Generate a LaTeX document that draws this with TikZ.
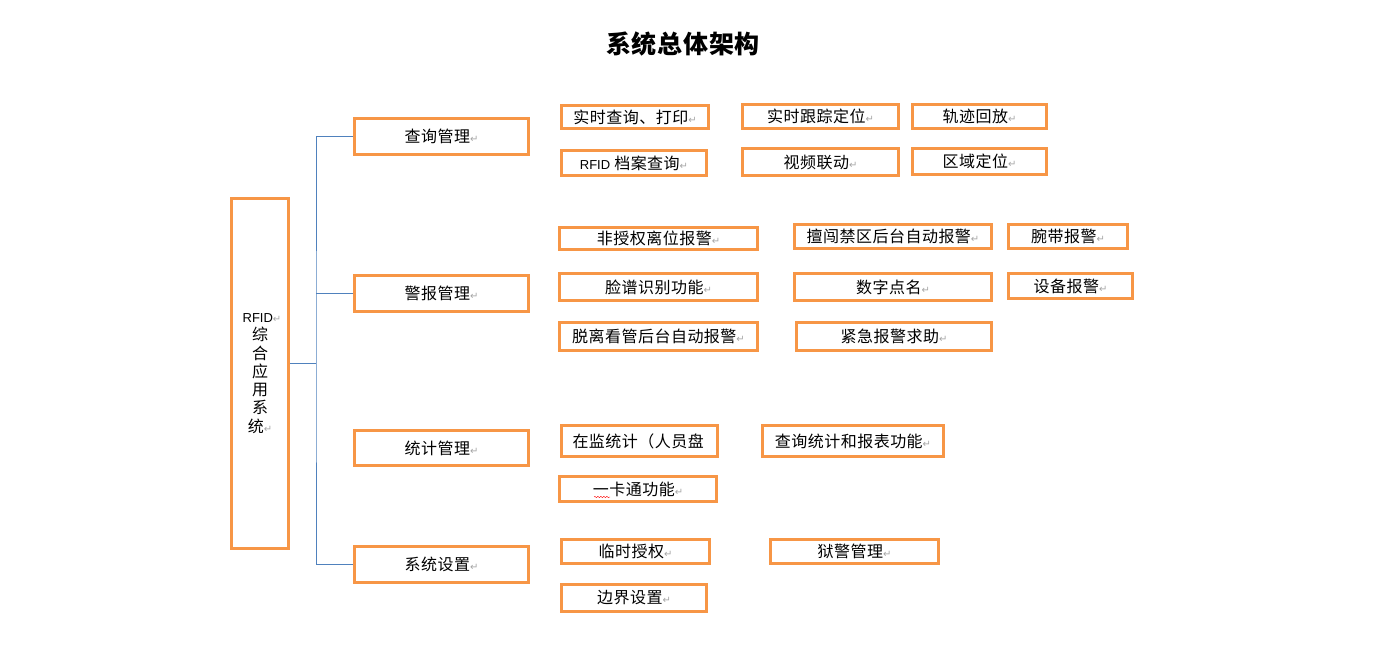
\documentclass[tikz,border=0pt]{standalone}
\usepackage{fontspec}
\setmainfont{Noto Sans CJK SC}[LetterSpace=3]
\newfontfamily\retfont{DejaVu Sans}
\newfontfamily\latinfont{Liberation Sans}
\usetikzlibrary{decorations.pathmorphing}
\definecolor{boxorange}{HTML}{F79646}
\definecolor{linkblue}{HTML}{4F81BD}
\newcommand{\retmark}{{\retfont\fontsize{10}{10}\selectfont\textcolor{gray!70}{↵}}}
\newcommand{\rfid}{{\latinfont\fontsize{13}{13}\selectfont RFID}}
\tikzset{
  box/.style={draw=boxorange, line width=3pt, inner sep=0pt, align=center,
    font=\fontsize{16}{18.3}\selectfont},
  link/.style={draw=linkblue, line width=1pt}
}
\begin{document}
\begin{tikzpicture}[x=1pt,y=-1pt]
    \useasboundingbox (0,0) rectangle (1397,656);
    % 标题
    \node (title) at (683,44) {\fontsize{25}{25}\selectfont\bfseries 系统总体架构};

    % 根节点
    \node[box, minimum width=57pt, minimum height=350pt] (root) at (260,373.5)
      {\hspace{4pt}\rfid\retmark\\综\\合\\应\\用\\系\\统\retmark};

    % 四个模块
    \node[box, minimum width=174pt, minimum height=36pt] (query) at (441.5,136.5) {查询管理\retmark};
    \node[box, minimum width=174pt, minimum height=36pt] (alarm) at (441.5,293.5) {警报管理\retmark};
    \node[box, minimum width=174pt, minimum height=35pt] (stat) at (441.5,448) {统计管理\retmark};
    \node[box, minimum width=174pt, minimum height=36pt] (setup) at (441.5,564.5) {系统设置\retmark};

    % 连线
    \coordinate (bus) at (316,363);
    \draw[link] (root.east |- bus) -- (bus);
    \draw[link] (query.west) -| (bus) |- (setup.west);
    \draw[link] (alarm.west) -- (alarm.west -| bus);

    % 查询管理的功能
    \foreach \name/\x/\y/\w/\h/\txt in {
      qa/635/117/147/23/实时查询、打印,
      qb/634/163/145/25/\rfid{} 档案查询,
      qc/820.5/116.5/156/24/实时跟踪定位,
      qd/979.5/116.5/134/24/轨迹回放,
      qe/820.5/162/156/27/视频联动,
      qf/979.5/161.5/134/26/区域定位}
    \node[box, minimum width=\w pt, minimum height=\h pt] (\name) at (\x,\y) {\txt\retmark};

    % 警报管理的功能
    \foreach \name/\x/\y/\w/\h/\txt in {
      aa/658.5/238.5/198/22/非授权离位报警,
      ab/893/236.5/197/24/擅闯禁区后台自动报警,
      ac/1068/236.5/119/24/腕带报警,
      ad/658.5/287/198/27/脸谱识别功能,
      ae/893/287/197/27/数字点名,
      af/1070.5/286/124/25/设备报警,
      ag/658.5/336.5/198/28/脱离看管后台自动报警,
      ah/894/336.5/195/28/紧急报警求助}
    \node[box, minimum width=\w pt, minimum height=\h pt] (\name) at (\x,\y) {\txt\retmark};

    % 统计管理的功能
    \node[box, minimum width=156pt, minimum height=31pt, text width=150pt, align=left] (sa) at (639.5,441) {\hspace{8pt}在监统计（人员盘};
    \node[box, minimum width=181pt, minimum height=31pt] (sb) at (853,441) {查询统计和报表功能\retmark};
    \node[box, minimum width=157pt, minimum height=25pt] (sc) at (638,489) {一卡通功能\retmark};
    \draw[red, decorate, decoration={snake, amplitude=0.7pt, segment length=3pt}]
      ([xshift=-44pt,yshift=-8pt]sc.center) -- ([xshift=-28pt,yshift=-8pt]sc.center);

    % 系统设置的功能
    \foreach \name/\x/\y/\w/\h/\txt in {
      ta/635.5/551.5/148/24/临时授权,
      tb/854.5/551.5/168/24/狱警管理,
      tc/634/598/145/27/边界设置}
    \node[box, minimum width=\w pt, minimum height=\h pt] (\name) at (\x,\y) {\txt\retmark};
\end{tikzpicture}
\end{document}
